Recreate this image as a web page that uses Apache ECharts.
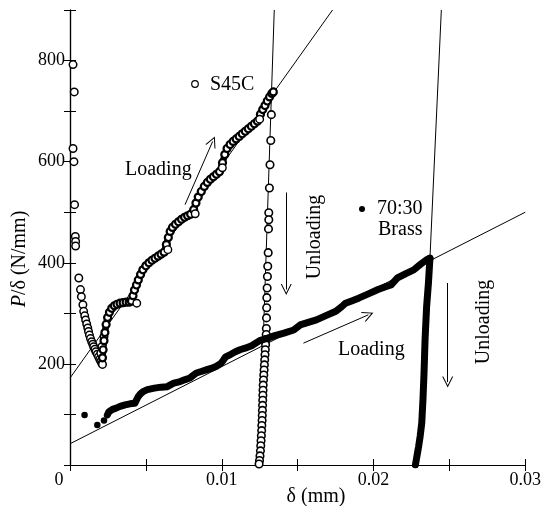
<!DOCTYPE html>
<html>
<head>
<meta charset="utf-8">
<script src="https://cdn.jsdelivr.net/npm/echarts@6/dist/echarts.min.js"></script>
<style>
html, body { margin: 0; padding: 0; background: #fff; }
#main { width: 544px; height: 506px; }
</style>
</head>
<body>
<div id="main"></div>
<script>
// values: [delta (mm), P/delta (N/mm)]
var xLabels = ['0', '0.01', '0.02', '0.03'];
var yLabels = [200, 400, 600, 800];

// S45C, first points near the axis and the dip
var s45cInitial = [
    [0.00020, 792], [0.00028, 738], [0.00020, 626], [0.00026, 600], [0.00030, 515],
    [0.00035, 452], [0.00037, 442], [0.00037, 433], [0.00058, 370], [0.00069, 347],
    [0.00075, 333], [0.00085, 317], [0.00090, 304], [0.00097, 295], [0.00103, 287],
    [0.00110, 279], [0.00117, 271], [0.00122, 264], [0.00128, 257], [0.00135, 250],
    [0.00143, 244], [0.00150, 239], [0.00156, 234], [0.00164, 229], [0.00171, 224],
    [0.00180, 219], [0.00188, 214], [0.00196, 209], [0.00203, 205], [0.00210, 201],
    [0.00214, 199], [0.00203, 221], [0.00210, 234], [0.00224, 254]
];
// S45C loading branch
var s45cLoading = [
    [0.00214, 212], [0.00218, 228], [0.00224, 246], [0.00230, 262], [0.00238, 278],
    [0.00248, 292], [0.00260, 302], [0.00275, 310], [0.00292, 315], [0.00310, 318],
    [0.00330, 320], [0.00350, 321], [0.00370, 322], [0.00390, 322], [0.00405, 324],
    [0.00415, 335], [0.00425, 346], [0.00438, 356], [0.00450, 366], [0.00465, 377],
    [0.00480, 386], [0.00500, 394], [0.00520, 400], [0.00540, 405], [0.00560, 409],
    [0.00580, 413], [0.00600, 417], [0.00620, 421], [0.00635, 436], [0.00648, 450],
    [0.00660, 462], [0.00675, 470], [0.00695, 476], [0.00715, 481], [0.00735, 486],
    [0.00755, 490], [0.00775, 493], [0.00795, 496], [0.00815, 505], [0.00830, 518],
    [0.00845, 530], [0.00865, 541], [0.00885, 551], [0.00905, 559], [0.00925, 565],
    [0.00945, 570], [0.00965, 575], [0.00985, 580], [0.01005, 598], [0.01020, 614],
    [0.01035, 626], [0.01055, 634], [0.01075, 640], [0.01095, 645], [0.01115, 650],
    [0.01135, 655], [0.01155, 660], [0.01175, 665], [0.01195, 670], [0.01215, 675],
    [0.01235, 680], [0.01255, 694], [0.01270, 703], [0.01285, 711], [0.01300, 720],
    [0.01315, 728], [0.01330, 735], [0.01340, 738]
];
// circles left below the curve at the end of each step
var s45cSteps = [[0.00440, 320], [0.00645, 426], [0.00825, 497], [0.01004, 588], [0.01250, 684]];
// S45C unloading
var s45cUnloading = [
    [0.01327, 693], [0.01323, 642], [0.01318, 594], [0.01314, 548], [0.01310, 499],
    [0.01310, 485], [0.01308, 467], [0.01306, 420], [0.01303, 393], [0.01301, 373],
    [0.01299, 350], [0.01297, 331], [0.01296, 311], [0.01295, 291], [0.01294, 270],
    [0.01293, 258], [0.01291, 248], [0.01289, 238], [0.01287, 228], [0.01285, 218],
    [0.01283, 208], [0.01281, 198], [0.01279, 188], [0.01277, 178], [0.01275, 168],
    [0.01273, 158], [0.01272, 148], [0.01271, 138], [0.01270, 128], [0.01269, 118],
    [0.01268, 108], [0.01267, 98], [0.01266, 88], [0.01264, 78], [0.01263, 68],
    [0.01261, 58], [0.01259, 48], [0.01257, 38], [0.01255, 28], [0.01252, 18],
    [0.01249, 9], [0.01246, 2]
];

// 70:30 brass
var brassFirst = [[0.00096, 99], [0.00180, 79], [0.00224, 88]];
var brassLoading = [
    [0.00246, 99], [0.00256, 105], [0.00280, 110], [0.00300, 112], [0.00330, 116],
    [0.00363, 119], [0.00395, 121], [0.00427, 122], [0.00440, 125], [0.00449, 135],
    [0.00465, 141], [0.00481, 145], [0.00510, 149], [0.00556, 152], [0.00600, 154],
    [0.00641, 155], [0.00665, 159], [0.00684, 162], [0.00726, 165], [0.00760, 169],
    [0.00790, 172], [0.00815, 178], [0.00833, 182], [0.00865, 185], [0.00897, 188],
    [0.00930, 191], [0.00962, 195], [0.00994, 201], [0.01010, 207], [0.01026, 214],
    [0.01060, 219], [0.01090, 224], [0.01120, 228], [0.01154, 231], [0.01197, 236],
    [0.01250, 246], [0.01303, 251], [0.01350, 256], [0.01410, 261], [0.01474, 267],
    [0.01517, 277], [0.01570, 282], [0.01624, 287], [0.01690, 296], [0.01752, 304],
    [0.01790, 313], [0.01816, 320], [0.01860, 325], [0.01902, 330], [0.01970, 339],
    [0.02030, 347], [0.02075, 352], [0.02115, 356], [0.02140, 364], [0.02158, 370],
    [0.02210, 378], [0.02265, 386], [0.02310, 397], [0.02350, 406], [0.02372, 409]
];
var brassUnloading = [
    [0.02372, 409], [0.02362, 360], [0.02350, 313], [0.02340, 250], [0.02333, 182],
    [0.02326, 130], [0.02318, 83], [0.02308, 58], [0.02297, 36], [0.02286, 17],
    [0.02276, 0]
];

// straight reference lines
var s45cFit = [[0, 172], [0.0173, 900]];
var s45cUnloadFit = [[0.01346, 900], [0.01246, 0]];
var brassFit = [[0, 42], [0.03, 500]];
var brassUnloadFit = [[0.02447, 900], [0.02372, 409]];

var FONT = 'Liberation Serif';
var chart = echarts.init(document.getElementById('main'));

function thinLine(data) {
    return {
        type: 'line', data: data, showSymbol: false, silent: true, z: 1,
        lineStyle: { color: '#000', width: 1 }
    };
}

var arrowHead = 'path://M0 12 L5 0 L10 12 L9 12 L5 2.5 L1 12 Z';

var axisCommon = {
    type: 'value',
    splitLine: { show: false },
    axisLine: { lineStyle: { color: '#000', width: 1.2 } },
    axisTick: { inside: true, length: 6, lineStyle: { color: '#000' } }
};

chart.setOption({
    animation: false,
    backgroundColor: '#fff',
    grid: { left: 70, right: 6, top: 10, bottom: 41 },
    xAxis: [
        Object.assign({}, axisCommon, {
            min: 0, max: 0.03, interval: 0.005,
            axisLabel: {
                margin: 6, color: '#000', fontFamily: FONT, fontSize: 18,
                formatter: function (v) {
                    var r = Math.round(v * 100) / 100;
                    if (Math.abs(r - v) > 1e-9 || xLabels.indexOf(String(r)) < 0) return '';
                    return r === 0 ? '{z|0}' : String(r);
                },
                rich: { z: { fontFamily: FONT, fontSize: 18, padding: [0, 22, 0, 0] } }
            }
        }),
        Object.assign({}, axisCommon, {
            position: 'top', min: 0, max: 0.03, interval: 0.005,
            axisLabel: { show: false }
        })
    ],
    yAxis: [
        Object.assign({}, axisCommon, {
            min: 0, max: 900, interval: 100,
            axisLabel: {
                margin: 5, color: '#000', fontFamily: FONT, fontSize: 18,
                formatter: function (v) {
                    return yLabels.indexOf(v) >= 0 ? String(v) : '';
                }
            }
        }),
        Object.assign({}, axisCommon, {
            position: 'right', min: 0, max: 900, interval: 100,
            axisLabel: { show: false }
        })
    ],
    series: [
        thinLine(s45cFit),
        thinLine(s45cUnloadFit),
        thinLine(brassFit),
        thinLine(brassUnloadFit),
        {
            type: 'scatter', data: s45cInitial, symbol: 'circle', symbolSize: 7.5, z: 3,
            itemStyle: { color: '#fff', borderColor: '#000', borderWidth: 1.5, opacity: 1 }
        },
        {
            type: 'line', data: s45cLoading, symbol: 'circle', symbolSize: 7, showSymbol: true, z: 3,
            lineStyle: { color: '#000', width: 6.5, join: 'round' },
            itemStyle: { color: '#fff', borderColor: '#000', borderWidth: 2.2 }
        },
        {
            type: 'scatter', data: s45cSteps, symbol: 'circle', symbolSize: 7.5, z: 4,
            itemStyle: { color: '#fff', borderColor: '#000', borderWidth: 1.4, opacity: 1 }
        },
        {
            type: 'scatter', data: s45cUnloading, symbol: 'circle', symbolSize: 7.5, z: 3,
            itemStyle: { color: '#fff', borderColor: '#000', borderWidth: 1.6, opacity: 1 }
        },
        {
            type: 'scatter', data: brassFirst, symbol: 'circle', symbolSize: 6.5, z: 3,
            itemStyle: { color: '#000', opacity: 1 }
        },
        {
            type: 'line', data: brassLoading, showSymbol: false, z: 5,
            lineStyle: { color: '#000', width: 7, cap: 'round', join: 'round' }
        },
        {
            type: 'line', data: brassUnloading, showSymbol: false, z: 5,
            lineStyle: { color: '#000', width: 7, cap: 'round', join: 'round' }
        },
        {
            // direction arrows
            type: 'lines', coordinateSystem: 'cartesian2d', z: 6, silent: true,
            symbol: ['none', arrowHead], symbolSize: [8, 11],
            lineStyle: { color: '#000', width: 1, opacity: 1, curveness: 0 },
            data: [
                { coords: [[0.00758, 515], [0.0094, 640]] },
                { coords: [[0.01425, 539], [0.01425, 347]] },
                { coords: [[0.01538, 241], [0.01966, 297]] },
                { coords: [[0.02489, 360], [0.02489, 164]] }
            ]
        }
    ],
    graphic: [
        { type: 'circle', shape: { cx: 195, cy: 84, r: 3.3 }, style: { fill: '#fff', stroke: '#000', lineWidth: 1.2 } },
        { type: 'text', x: 210, y: 85, style: { text: 'S45C', fontFamily: FONT, fontSize: 20, fill: '#000', align: 'left', verticalAlign: 'middle', textAlign: 'left', textVerticalAlign: 'middle' } },
        { type: 'text', x: 125, y: 170, style: { text: 'Loading', fontFamily: FONT, fontSize: 20, fill: '#000', align: 'left', verticalAlign: 'middle', textAlign: 'left', textVerticalAlign: 'middle' } },
        { type: 'text', x: 315, y: 237, rotation: Math.PI / 2, style: { text: 'Unloading', fontFamily: FONT, fontSize: 20, fill: '#000', align: 'center', verticalAlign: 'middle', textAlign: 'center', textVerticalAlign: 'middle' } },
        { type: 'circle', shape: { cx: 362, cy: 209, r: 3 }, style: { fill: '#000' } },
        { type: 'text', x: 377, y: 209, style: { text: '70:30', fontFamily: FONT, fontSize: 20, fill: '#000', align: 'left', verticalAlign: 'middle', textAlign: 'left', textVerticalAlign: 'middle' } },
        { type: 'text', x: 378, y: 230, style: { text: 'Brass', fontFamily: FONT, fontSize: 20, fill: '#000', align: 'left', verticalAlign: 'middle', textAlign: 'left', textVerticalAlign: 'middle' } },
        { type: 'text', x: 338, y: 350, style: { text: 'Loading', fontFamily: FONT, fontSize: 20, fill: '#000', align: 'left', verticalAlign: 'middle', textAlign: 'left', textVerticalAlign: 'middle' } },
        { type: 'text', x: 484, y: 322, rotation: Math.PI / 2, style: { text: 'Unloading', fontFamily: FONT, fontSize: 20, fill: '#000', align: 'center', verticalAlign: 'middle', textAlign: 'center', textVerticalAlign: 'middle' } },
        { type: 'text', x: 20, y: 259, rotation: Math.PI / 2, style: {
            text: '{i|P}/δ (N/mm)', fontFamily: FONT, fontSize: 20, fill: '#000',
            align: 'center', verticalAlign: 'middle', textAlign: 'center', textVerticalAlign: 'middle',
            rich: { i: { fontFamily: FONT, fontSize: 20, fontStyle: 'italic' } }
        } },
        { type: 'text', x: 316, y: 497, style: { text: 'δ (mm)', fontFamily: FONT, fontSize: 20, fill: '#000', align: 'center', verticalAlign: 'middle', textAlign: 'center', textVerticalAlign: 'middle' } }
    ]
});
</script>
</body>
</html>
